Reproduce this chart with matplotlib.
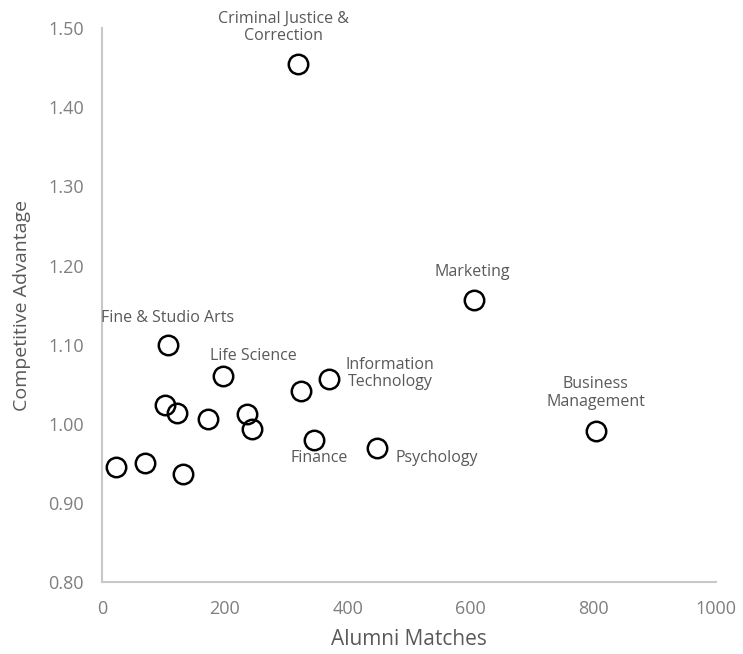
import matplotlib.pyplot as plt

# Alumni matches vs competitive advantage
matches = [320, 605, 804, 107, 197, 325, 370, 346, 448,
           103, 123, 173, 236, 244, 23, 70, 132]
advantage = [1.455, 1.157, 0.991, 1.100, 1.060, 1.042, 1.056, 0.980, 0.970,
             1.024, 1.014, 1.006, 1.012, 0.993, 0.945, 0.950, 0.937]

labels = ["Criminal Justice &\nCorrection", "Marketing", "Business\nManagement",
          "Fine & Studio Arts", "Life Science", "", "Information\nTechnology",
          "Finance", "Psychology"]
# label offsets in pixels (dx, dy) from the marker
offsets = [(-15, 36), (-1, 28), (0, 38), (0, 27), (31, 20), (0, 0),
           (61, 6), (5, -18), (60, -10)]

grey = '#595959'
fig = plt.figure(figsize=(7.43, 6.54), dpi=100)
ax = fig.add_axes([0.137, 0.110, 0.827, 0.847])

ax.plot(matches, advantage, linestyle='none', marker='o', markersize=14,
        markerfacecolor='none', markeredgecolor='black', markeredgewidth=1.8)

for i, lab in enumerate(labels):
    if lab == "":
        continue
    dx, dy = offsets[i]
    ax.annotate(lab, (matches[i], advantage[i]), xytext=(dx * 0.72, dy * 0.72),
                textcoords='offset points', ha='center', va='center',
                fontsize=11.5, color=grey, family='Open Sans', linespacing=1.1)

ax.set_xlim(0, 1000)
ax.set_ylim(0.80, 1.50)
ax.set_xticks([0, 200, 400, 600, 800, 1000])
ax.set_yticks([0.8, 0.9, 1.0, 1.1, 1.2, 1.3, 1.4, 1.5])
ax.set_yticklabels(['%.2f' % v for v in ax.get_yticks()])
ax.tick_params(length=0, labelsize=13, labelcolor='#7f7f7f', pad=13)
for t in ax.get_xticklabels() + ax.get_yticklabels():
    t.set_family('Open Sans')

for s in ['top', 'right']:
    ax.spines[s].set_visible(False)
for s in ['left', 'bottom']:
    ax.spines[s].set_color('#c8c8c8')
    ax.spines[s].set_linewidth(1.5)

ax.set_xlabel('Alumni Matches', fontsize=15, color=grey, family='Open Sans', labelpad=8)
ax.set_ylabel('Competitive Advantage', fontsize=14, color=grey, family='Open Sans', labelpad=12)

fig.savefig('out.png', dpi=100)
